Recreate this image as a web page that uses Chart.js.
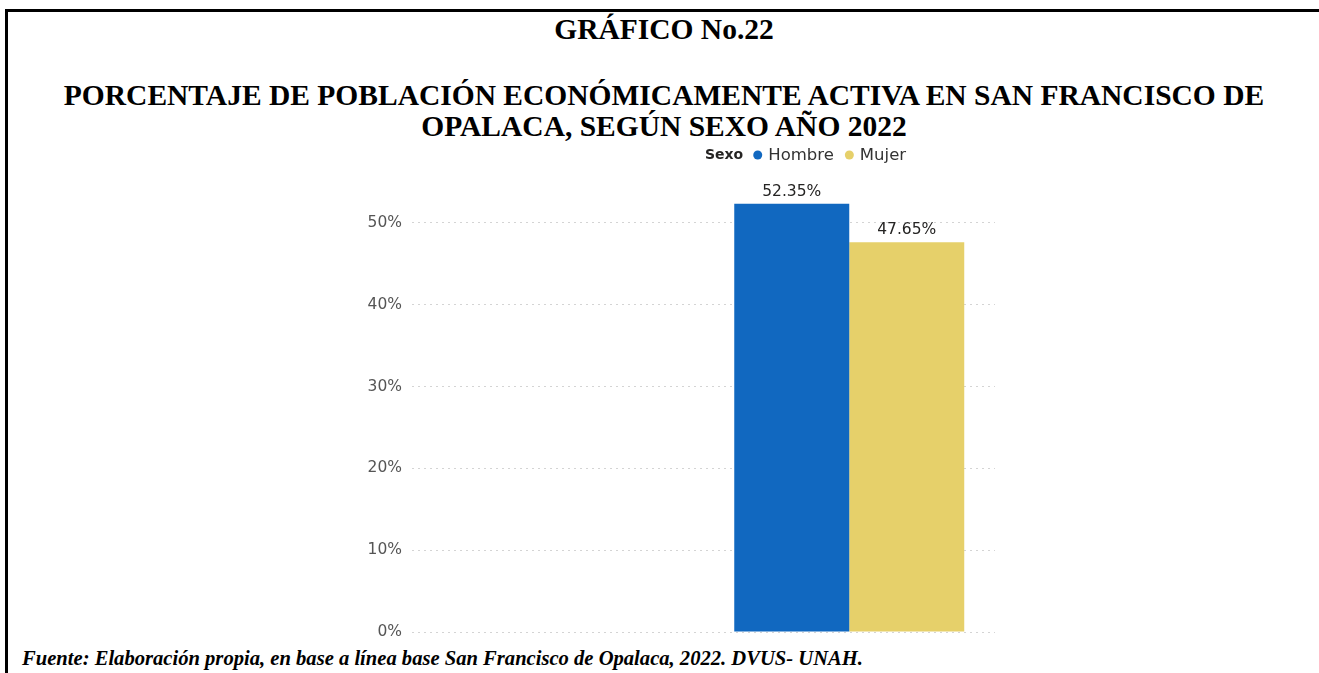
<!DOCTYPE html>
<html>
<head>
<meta charset="utf-8">
<script src="https://cdn.jsdelivr.net/npm/chart.js@4.4.1/dist/chart.umd.min.js"></script>
<style>
  html, body { margin:0; padding:0; background:#fff; }
  body { width:1319px; height:673px; position:relative; overflow:hidden; }
  .border-top { position:absolute; left:5px; top:9px; width:1314px; height:3px; background:#000; }
  .border-left { position:absolute; left:5px; top:9px; width:3px; height:664px; background:#000; }
  .t { position:absolute; left:0; width:1328px; text-align:center; font-family:"Liberation Serif","Times New Roman",serif; font-weight:bold; color:#000; white-space:nowrap; font-size:29.5px; line-height:30px; }
  #t0 { top:14px; }
  #t1 { top:80px; }
  #t2 { top:111px; }
  #foot { position:absolute; left:22px; top:647px; font-family:"Liberation Serif","Times New Roman",serif; font-weight:bold; font-style:italic; font-size:20.6px; white-space:nowrap; color:#000; }
  #c { position:absolute; left:0; top:0; }
</style>
</head>
<body>
<div class="border-top"></div>
<div class="border-left"></div>
<div class="t" id="t0">GRÁFICO No.22</div>
<div class="t" id="t1">PORCENTAJE DE POBLACIÓN ECONÓMICAMENTE ACTIVA EN SAN FRANCISCO DE</div>
<div class="t" id="t2">OPALACA, SEGÚN SEXO AÑO 2022</div>
<div id="foot">Fuente: Elaboración propia, en base a línea base San Francisco de Opalaca, 2022. DVUS- UNAH.</div>
<canvas id="c" width="1319" height="673"></canvas>
<script>
const categories = ['', ''];
const hombre = [null, 52.35];
const mujer = [null, 47.65];
const yTicks = [0, 10, 20, 30, 40, 50];
const seriesNames = ['Hombre', 'Mujer'];
const legendTitle = 'Sexo';

const FONT = '"DejaVu Sans", "Segoe UI", sans-serif';

const valueLabels = {
  id: 'valueLabels',
  afterDatasetsDraw(chart) {
    const ctx = chart.ctx;
    ctx.save();
    ctx.font = '15.5px ' + FONT;
    ctx.fillStyle = '#252423';
    ctx.textAlign = 'center';
    ctx.textBaseline = 'bottom';
    chart.data.datasets.forEach((ds, i) => {
      const meta = chart.getDatasetMeta(i);
      meta.data.forEach((el, j) => {
        const v = ds.data[j];
        if (v === null || v === undefined) return;
        ctx.fillText(v.toFixed(2) + '%', el.x, el.y - 4);
      });
    });
    ctx.restore();
  }
};

const sideLegend = {
  id: 'sideLegend',
  afterDraw(chart) {
    const ctx = chart.ctx;
    ctx.save();
    const y = 155;
    let x = 705;
    ctx.textBaseline = 'middle';
    ctx.textAlign = 'left';
    ctx.font = 'bold 14px ' + FONT;
    ctx.fillStyle = '#252423';
    ctx.fillText(legendTitle, x, y);
    x += ctx.measureText(legendTitle).width + 10;
    ctx.font = '16.5px ' + FONT;
    chart.data.datasets.forEach((ds) => {
      ctx.fillStyle = ds.backgroundColor;
      ctx.beginPath();
      ctx.arc(x + 4.5, y, 4.5, 0, Math.PI * 2);
      ctx.fill();
      x += 15;
      ctx.fillStyle = '#333333';
      ctx.fillText(ds.label, x, y + 1);
      x += ctx.measureText(ds.label).width + 11;
    });
    ctx.restore();
  }
};

new Chart(document.getElementById('c'), {
  type: 'bar',
  data: {
    labels: categories,
    datasets: [
      { label: seriesNames[0], data: hombre, backgroundColor: '#1168C0', borderWidth: 0 },
      { label: seriesNames[1], data: mujer, backgroundColor: '#E6D06A', borderWidth: 0 }
    ]
  },
  options: {
    responsive: false,
    animation: false,
    layout: { padding: { left: 352, right: 324, top: 182, bottom: 41 } },
    plugins: { legend: { display: false }, tooltip: { enabled: false } },
    datasets: { bar: { categoryPercentage: 0.789, barPercentage: 1.0 } },
    scales: {
      x: { display: false },
      y: {
        min: 0, max: 55,
        afterFit(scale) { scale.width = 60; },
        afterBuildTicks(scale) { scale.ticks = yTicks.map(v => ({ value: v })); },
        border: { display: false, dash: [2, 4] },
        grid: { color: '#D4D4D4', lineWidth: 1, drawTicks: false },
        ticks: { padding: 10, color: '#555555', font: { family: FONT, size: 15.5 }, callback: v => v + '%' }
      }
    }
  },
  plugins: [valueLabels, sideLegend]
});
</script>
</body>
</html>
